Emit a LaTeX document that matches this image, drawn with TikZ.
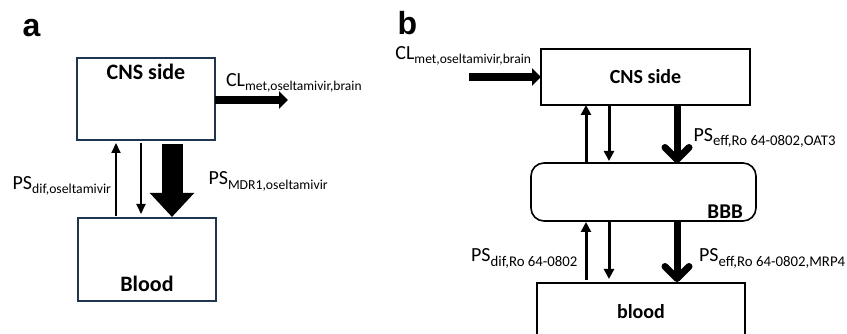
\documentclass[tikz,border=0pt]{standalone}
\usepackage{fontspec}
\setmainfont{Carlito}
\newfontfamily\letterfont{Liberation Sans}
\usetikzlibrary{positioning,arrows.meta}

\definecolor{boxnavy}{HTML}{1F3550}
% rate symbol with a lowered subscript: \rate{PS}{size}{subscript}
\newcommand{\rate}[3]{#1\raisebox{-4.5pt}{\fontsize{#2}{16}\selectfont #3}}

\tikzset{
    panelletter/.style={font=\letterfont\fontsize{32}{36}\selectfont\bfseries, inner sep=0pt},
    boxA/.style={draw=boxnavy, line width=2pt, outer sep=0pt, inner sep=0pt, minimum width=138pt, minimum height=82pt},
    boxB/.style={draw=black, line width=1.6pt, outer sep=0pt, inner sep=0pt, font=\fontsize{20}{24}\selectfont\bfseries},
    boxtext/.style={font=\fontsize{22}{26}\selectfont\bfseries, inner sep=0pt},
    ratetext/.style={font=\fontsize{20}{24}\selectfont, inner sep=0pt},
    thinA/.style={line width=2pt, -{Triangle[length=10pt,width=9pt]}},
    thinB/.style={line width=3pt, -{Triangle[length=10pt,width=10pt]}},
    chevron/.style={line width=7pt, -{Straight Barb[length=12pt,width=24pt,round]}}
}

\begin{document}
\begin{tikzpicture}[x=1pt, y=1pt]
    \useasboundingbox (0,0) rectangle (847,334);

    % panel a
    \node[panelletter] (letterA) at (31.5,306) {a};
    \node[boxA, label={[boxtext, anchor=north, yshift=-6pt]north:CNS side}] (cnsA) at (146,235) {};
    \node[boxA, minimum height=83pt, label={[boxtext, anchor=south, yshift=9pt]south:Blood}] (bloodA) at (147,74.5) {};

    \coordinate (upA) at (116,0);
    \coordinate (downA) at (141,0);
    \coordinate (mdrA) at (172,0);
    \coordinate (clEndA) at (288,234);

    \draw[thinA, shorten <=2pt, shorten >=3pt] (bloodA.north -| upA) -- (cnsA.south -| upA)
        node[ratetext, midway, left=4pt, yshift=-7pt] (psDifA) {\rate{PS}{13.7}{dif,oseltamivir}};
    \draw[thinA, shorten <=3pt, shorten >=4pt] (cnsA.south -| downA) -- (bloodA.north -| downA);
    \draw[line width=21pt, -{Triangle[length=24pt,width=43pt]}, shorten <=4pt, shorten >=1pt] (cnsA.south -| mdrA) -- (bloodA.north -| mdrA)
        node[ratetext, midway, right=26pt, yshift=-2.5pt] (psMdrA) {\rate{PS}{13.7}{MDR1,oseltamivir}};
    \draw[line width=8pt, -{Triangle[length=9pt,width=17pt]}] (cnsA.east |- clEndA) -- (clEndA)
        node[ratetext, pos=0, anchor=west, xshift=7pt, yshift=17pt] (clA) {\rate{CL}{13.5}{met,oseltamivir,brain}};

    % panel b
    \node[panelletter] (letterB) at (407.5,311) {b};
    \node[boxB, minimum width=209pt, minimum height=56pt] (cnsB) at (645.5,257) {CNS side};
    \node[boxB, rounded corners=13pt, minimum width=225pt, minimum height=58pt,
        label={[boxtext, font=\fontsize{21}{25}\selectfont\bfseries, anchor=south east, xshift=-13pt, yshift=2.5pt]south east:BBB}] (bbb) at (643.5,142) {};
    \node[boxB, minimum width=208pt, minimum height=58pt] (bloodB) at (641,22) {blood};

    \coordinate (upB) at (586,0);
    \coordinate (downB) at (609,0);
    \coordinate (effB) at (677,0);
    \coordinate (clStartB) at (469,257);

    \draw[line width=8pt, -{Triangle[length=9pt,width=17pt]}] (clStartB) -- (cnsB.west)
        node[ratetext, pos=1, anchor=east, xshift=-6pt, yshift=21pt] (clB) {\rate{CL}{13.5}{met,oseltamivir,brain}};

    \draw[thinB] (bbb.north -| upB) -- (cnsB.south -| upB);
    \draw[thinB, shorten >=2pt] (cnsB.south -| downB) -- (bbb.north -| downB);
    \draw[chevron] (cnsB.south -| effB) -- (bbb.north -| effB)
        node[ratetext, midway, right=13pt, yshift=-4pt] (psOat) {\rate{PS}{14.8}{eff,Ro 64-0802,OAT3}};

    \draw[thinB, shorten <=3pt, shorten >=1pt] (bloodB.north -| upB) -- (bbb.south -| upB)
        node[ratetext, midway, left=7pt, yshift=-6.5pt] (psDifB) {\rate{PS}{14.8}{dif,Ro 64-0802}};
    \draw[thinB, shorten >=4pt] (bbb.south -| downB) -- (bloodB.north -| downB);
    \draw[chevron, shorten >=1pt] (bbb.south -| effB) -- (bloodB.north -| effB)
        node[ratetext, midway, right=18.5pt, yshift=-6.5pt] (psMrp) {\rate{PS}{14.8}{eff,Ro 64-0802,MRP4}};
\end{tikzpicture}
\end{document}
